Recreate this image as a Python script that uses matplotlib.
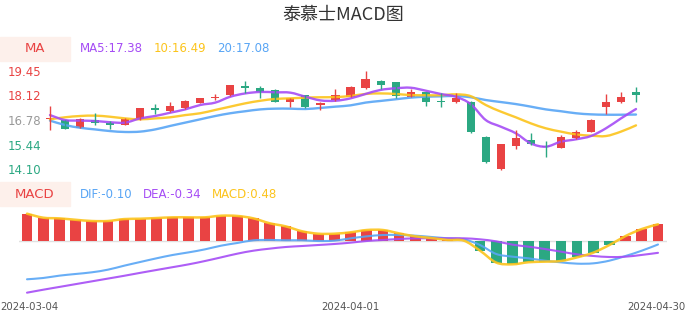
import matplotlib
matplotlib.use('Agg')
import matplotlib.pyplot as plt
from matplotlib.patches import Rectangle, PathPatch
from matplotlib.path import Path
import numpy as np

# ---- data ----
dates = ['2024-03-04', '2024-04-01', '2024-04-30']
date_idx = [0, 20, 39]

opens = [16.83, 16.78, 16.36, 16.80, 16.60, 16.52, 16.82, 17.42, 17.27, 17.45,
         17.73, 17.97, 18.14, 18.63, 18.52, 18.42, 17.78, 18.13, 17.58, 17.88,
         18.05, 18.50, 18.92, 18.83, 18.05, 18.31, 17.84, 17.75, 17.76, 15.87,
         14.12, 15.35, 15.71, 15.36, 15.28, 15.82, 16.15, 17.51, 17.75, 18.31]
closes = [16.88, 16.30, 16.82, 16.62, 16.52, 16.82, 17.42, 17.32, 17.55, 17.80,
          17.97, 18.04, 18.67, 18.51, 18.32, 17.78, 17.96, 17.48, 17.72, 18.12,
          18.60, 19.00, 18.67, 18.07, 18.31, 17.78, 17.76, 17.98, 16.12, 14.48,
          15.48, 15.80, 15.50, 15.30, 15.84, 16.15, 16.77, 17.78, 18.05, 18.15]
highs = [17.55, 16.80, 16.89, 17.15, 16.75, 16.89, 17.45, 17.65, 17.78, 17.85,
         18.00, 18.20, 18.69, 18.89, 18.65, 18.45, 18.00, 18.16, 17.75, 18.45,
         18.62, 19.47, 18.96, 18.85, 18.49, 18.33, 18.24, 18.27, 17.80, 15.89,
         15.50, 16.24, 16.06, 15.66, 15.95, 16.24, 16.84, 18.20, 18.31, 18.56]
lows = [16.24, 16.27, 16.33, 16.51, 16.29, 16.49, 16.80, 17.09, 17.24, 17.40,
        17.70, 17.87, 18.10, 18.24, 17.96, 17.75, 17.51, 17.44, 17.33, 17.80,
        18.03, 18.48, 18.49, 18.00, 18.03, 17.56, 17.51, 17.70, 16.10, 14.46,
        14.06, 15.22, 15.42, 14.75, 15.26, 15.75, 16.13, 17.11, 17.73, 17.78]

ma5 = [17.05, 16.78, 16.75, 16.73, 16.66, 16.64, 16.87, 17.00, 17.18, 17.36,
       17.60, 17.73, 18.05, 18.23, 18.31, 18.29, 18.27, 18.05, 17.85, 17.83,
       17.96, 18.20, 18.42, 18.51, 18.54, 18.38, 18.20, 18.05, 17.65, 16.78,
       16.42, 16.06, 15.51, 15.33, 15.60, 15.73, 15.91, 16.33, 16.87, 17.38]
ma10 = [16.82, 16.93, 17.00, 17.02, 16.96, 16.87, 16.82, 16.87, 16.93, 17.05,
        17.15, 17.33, 17.51, 17.69, 17.83, 17.93, 17.96, 18.00, 18.02, 18.03,
        18.09, 18.20, 18.23, 18.20, 18.14, 18.13, 18.13, 18.18, 18.08, 17.60,
        17.24, 16.93, 16.60, 16.33, 16.15, 16.00, 15.93, 15.91, 16.15, 16.49]
ma20 = [16.75, 16.51, 16.36, 16.27, 16.18, 16.13, 16.15, 16.27, 16.46, 16.64,
        16.82, 17.00, 17.15, 17.26, 17.36, 17.40, 17.40, 17.38, 17.44, 17.51,
        17.58, 17.73, 17.82, 17.91, 18.00, 18.05, 18.07, 18.09, 18.02, 17.87,
        17.76, 17.65, 17.51, 17.36, 17.26, 17.15, 17.09, 17.07, 17.07, 17.08]

macd = [0.785, 0.67, 0.65, 0.61, 0.575, 0.575, 0.63, 0.64, 0.66, 0.68,
        0.68, 0.68, 0.727, 0.72, 0.65, 0.51, 0.42, 0.28, 0.21, 0.21,
        0.25, 0.316, 0.316, 0.22, 0.134, 0.086, 0.03, 0.01, -0.278, -0.62,
        -0.67, -0.61, -0.594, -0.575, -0.47, -0.335, -0.115, 0.144, 0.345, 0.48]
dif = [-1.10, -1.063, -0.996, -0.948, -0.90, -0.824, -0.71, -0.603, -0.498, -0.402,
       -0.326, -0.24, -0.134, -0.057, 0.02, 0.03, 0.02, 0.02, 0.0, 0.01,
       0.077, 0.134, 0.172, 0.172, 0.153, 0.115, 0.077, 0.048, -0.115, -0.373,
       -0.45, -0.498, -0.565, -0.613, -0.651, -0.642, -0.565, -0.43, -0.278, -0.10]
dea = [-1.485, -1.40, -1.32, -1.24, -1.16, -1.08, -1.00, -0.915, -0.833, -0.752,
       -0.67, -0.575, -0.47, -0.364, -0.278, -0.22, -0.172, -0.144, -0.115, -0.086,
       -0.048, 0.0, 0.03, 0.057, 0.077, 0.077, 0.077, 0.077, 0.048, -0.01,
       -0.105, -0.163, -0.23, -0.306, -0.383, -0.43, -0.46, -0.45, -0.40, -0.34]

price_ticks = [19.45, 18.12, 16.78, 15.44, 14.10]

RED = '#e94343'
GREEN = '#2ba882'
PURPLE = '#a54cf5'
YELLOW = '#fcc41c'
BLUE = '#58a5f5'
GRAY = '#999999'

plt.rcParams['font.family'] = ['DejaVu Sans']

W, H = 686, 320
fig = plt.figure(figsize=(W / 100, H / 100), dpi=100)


def px_axes(left, top, right, bottom):
    return fig.add_axes([left / W, 1 - bottom / H, (right - left) / W, (bottom - top) / H])


def smooth_line(ax, xs, ys, color, lw):
    # catmull-rom curve through the points, drawn as bezier path
    p = np.column_stack([xs, ys]).astype(float)
    n = len(p)
    verts = [p[0]]
    codes = [Path.MOVETO]
    for i in range(n - 1):
        p0 = p[max(i - 1, 0)]
        p1 = p[i]
        p2 = p[i + 1]
        p3 = p[min(i + 2, n - 1)]
        c1 = p1 + (p2 - p0) / 6
        c2 = p2 - (p3 - p1) / 6
        verts += [c1, c2, p2]
        codes += [Path.CURVE4] * 3
    ax.add_patch(PathPatch(Path(verts, codes), fill=False, edgecolor=color,
                           lw=lw, capstyle='round', joinstyle='round', alpha=0.9))


def ftext(x, y, s, **kw):
    fig.text(x / W, 1 - y / H, s, va='center', **kw)


# ---- title ----
ftext(343, 15, '泰慕士MACD图', ha='center', fontsize=13, color='#333333',
      family=['Noto Sans CJK SC', 'DejaVu Sans'])

# ---- candle panel ----
ax = px_axes(44, 65, 646, 175)
ax.set_xlim((44 - 50) / 15.03, 39 + (646 - 636) / 15.03)
ax.set_ylim(19.45 - (175 - 71) / 18.37, 19.45 + 6 / 18.37)
idx = np.arange(len(closes))
for i in idx:
    col = RED if closes[i] >= opens[i] else GREEN
    ax.vlines(i, lows[i], highs[i], color=col, lw=1, clip_on=False)
    lo = min(opens[i], closes[i])
    hgt = max(abs(closes[i] - opens[i]), 0.04)
    ax.bar(i, hgt, bottom=lo, width=0.54, color=col, clip_on=False)
smooth_line(ax, idx, ma20, BLUE, 1.7)
smooth_line(ax, idx, ma10, YELLOW, 1.7)
smooth_line(ax, idx, ma5, PURPLE, 1.7)
ax.set_yticks(price_ticks)
ax.set_yticklabels(['%.2f' % v for v in price_ticks])
tick_cols = [RED, RED, GRAY, GREEN, GREEN]
for lab, c in zip(ax.get_yticklabels(), tick_cols):
    lab.set_color(c)
ax.tick_params(axis='y', length=0, pad=2, labelsize=8.5)
ax.set_xticks([])
for s in ax.spines.values():
    s.set_visible(False)
ax.patch.set_alpha(0)

# ---- MACD panel ----
bx = px_axes(19, 205, 667, 300)
bx.set_xlim((19 - 27) / 16.18, 39 + (667 - 658) / 16.18)
bx.set_ylim(-(300 - 241) / 34.8, (241 - 205) / 34.8)
bx.axhline(0, color='#e0e0e0', lw=1, zorder=0)
bar_cols = [RED if v >= 0 else GREEN for v in macd]
bx.bar(idx, macd, width=0.66, color=bar_cols)
smooth_line(bx, idx, dif, BLUE, 1.5)
smooth_line(bx, idx, dea, PURPLE, 1.5)
smooth_line(bx, idx, macd, YELLOW, 1.8)
bx.set_yticks([])
bx.set_xticks([])
# date labels, the end ones nudged inward so they stay on the canvas
nudge = [2, 0, -2]
for k, d in enumerate(dates):
    bx.annotate(d, xy=(date_idx[k], 0), xycoords=bx.get_xaxis_transform(),
                xytext=(nudge[k] * 0.72, -1.5), textcoords='offset points',
                ha='center', va='top', fontsize=7.3, color='#555555')
for s in bx.spines.values():
    s.set_visible(False)
bx.patch.set_alpha(0)

# ---- legend rows ----
for top in (37, 182):
    fig.patches.append(Rectangle((0, 1 - (top + 24) / H), 70 / W, 24 / H,
                                 transform=fig.transFigure, color='#fdf0eb', zorder=0))
ftext(35, 49, 'MA', ha='center', fontsize=9.5, color=RED)
ftext(80, 49, 'MA5:17.38', ha='left', fontsize=8.5, color=PURPLE)
ftext(154, 49, '10:16.49', ha='left', fontsize=8.5, color=YELLOW)
ftext(217, 49, '20:17.08', ha='left', fontsize=8.5, color=BLUE)
ftext(35, 194, 'MACD', ha='center', fontsize=9.5, color=RED)
ftext(80, 194, 'DIF:-0.10', ha='left', fontsize=8.5, color=BLUE)
ftext(143, 194, 'DEA:-0.34', ha='left', fontsize=8.5, color=PURPLE)
ftext(212, 194, 'MACD:0.48', ha='left', fontsize=8.5, color=YELLOW)

fig.savefig('out.png', dpi=100)
